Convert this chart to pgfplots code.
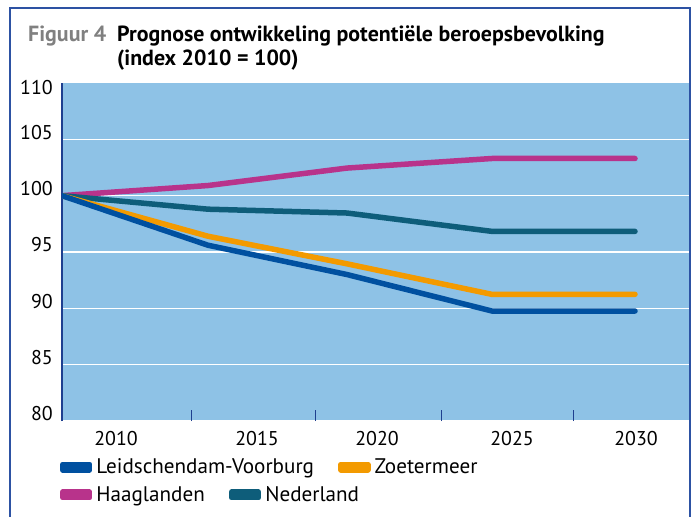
\documentclass[border=0pt]{standalone}
\usepackage{pgfplots}
\pgfplotsset{compat=1.18}
\usepackage{fontspec}
\setmainfont{PT Sans}
\definecolor{bgblue}{HTML}{8EC2E6}
\definecolor{lvblue}{HTML}{0050A0}
\definecolor{zorange}{HTML}{F39A00}
\definecolor{hpink}{HTML}{B8338B}
\definecolor{nteal}{HTML}{0E5D7A}
\definecolor{axblue}{HTML}{1E3F8F}
\definecolor{framec}{HTML}{2D52A3}
\definecolor{figgray}{HTML}{808080}
\newcommand{\fs}{\fontsize{20}{24}\selectfont}
\newcommand{\fl}{\fontsize{21.2}{25}\selectfont}
\newcommand{\ft}{\fontsize{22}{26}\selectfont}
\pgfplotsset{
  legend image code/.code={\path (0bp,-2.75bp) rectangle (27bp,2.75bp); \draw[#1, line cap=round] (2.75bp,0bp) -- (24.25bp,0bp);},
  common/.style={scale only axis, width=627bp, height=338bp, xmin=62, xmax=689, ymin=80, ymax=110,
    at={(62bp,-421bp)}, anchor=south west,
    legend columns=2,
    legend style={draw=none, fill=none, inner sep=0pt, outer sep=0pt, font=\fl,
      nodes={inner sep=0pt},
      /tikz/every odd column/.append style={column sep=4bp},
      /tikz/every even column/.append style={column sep=24bp}}},
  ser/.style={line width=5.5bp, line cap=round, line join=round}
}
\begin{document}
\begin{tikzpicture}
\useasboundingbox (0bp,0bp) rectangle (693bp,-517bp);
\draw[framec, line width=1.3bp] (10bp,-530bp) -- (10bp,-8bp) -- (690bp,-8bp) -- (690bp,-530bp);
\node[anchor=base west, inner sep=0pt, font=\ft\bfseries, text=figgray] at (28bp,-41.7bp) {Figuur 4};
\node[anchor=base west, inner sep=0pt, font=\ft\bfseries] at (117bp,-41.7bp) {Prognose ontwikkeling potentiële beroepsbevolking};
\node[anchor=base west, inner sep=0pt, font=\ft\bfseries] at (117bp,-65.5bp) {(index 2010 = 100)};

\begin{axis}[common,
  axis background/.style={fill=bgblue},
  axis lines*=left,
  x axis line style={draw=none},
  y axis line style={draw=axblue, line width=1.3bp},
  ytick={80,85,90,95,100,105},
  extra y ticks={110},
  extra y tick style={grid=none, yticklabel style={yshift=-12bp}},
  ymajorgrids, grid style={white, line width=1.3bp},
  major tick length=0pt,
  tick style={axblue, line width=1bp},
  yticklabel style={anchor=east, inner sep=0pt, xshift=-9bp, yshift=7bp, font=\fs},
  /pgf/number format/assume math mode=true,
  xtick={116,257,377,512,636},
  xticklabels={2010,2015,2020,2025,2030},
  xticklabel style={anchor=base, inner sep=0pt, yshift=-24.7bp, font=\fs},
  extra x ticks={191,315,441,573},
  extra x tick labels={},
  extra x tick style={major tick length=11bp, tick align=inside, grid=none},
  legend style={at={(axis description cs:-0.0032,-0.1361)}, anchor=west},
]
\addplot[ser, hpink, forget plot] coordinates {(62,100) (208,100.9) (347,102.45) (492,103.3) (635,103.3)};
\addplot[ser, nteal, forget plot] coordinates {(62,100) (208,98.8) (347,98.46) (492,96.83) (635,96.83)};
\addplot[ser, zorange, forget plot] coordinates {(62,100) (208,96.4) (347,93.95) (492,91.24) (635,91.24)};
\addplot[ser, lvblue, forget plot] coordinates {(62,100) (208,95.6) (347,93.0) (492,89.76) (635,89.76)};
\addlegendimage{ser, lvblue}
\addlegendentry{Leidschendam-Voorburg}
\addlegendimage{ser, zorange}
\addlegendentry{Zoetermeer}
\end{axis}

\begin{axis}[common, hide axis,
  legend style={at={(axis description cs:-0.0032,-0.2189)}, anchor=west},
]
\addlegendimage{ser, hpink}
\addlegendentry{Haaglanden}
\addlegendimage{ser, nteal}
\addlegendentry{Nederland}
\end{axis}
\end{tikzpicture}
\end{document}
